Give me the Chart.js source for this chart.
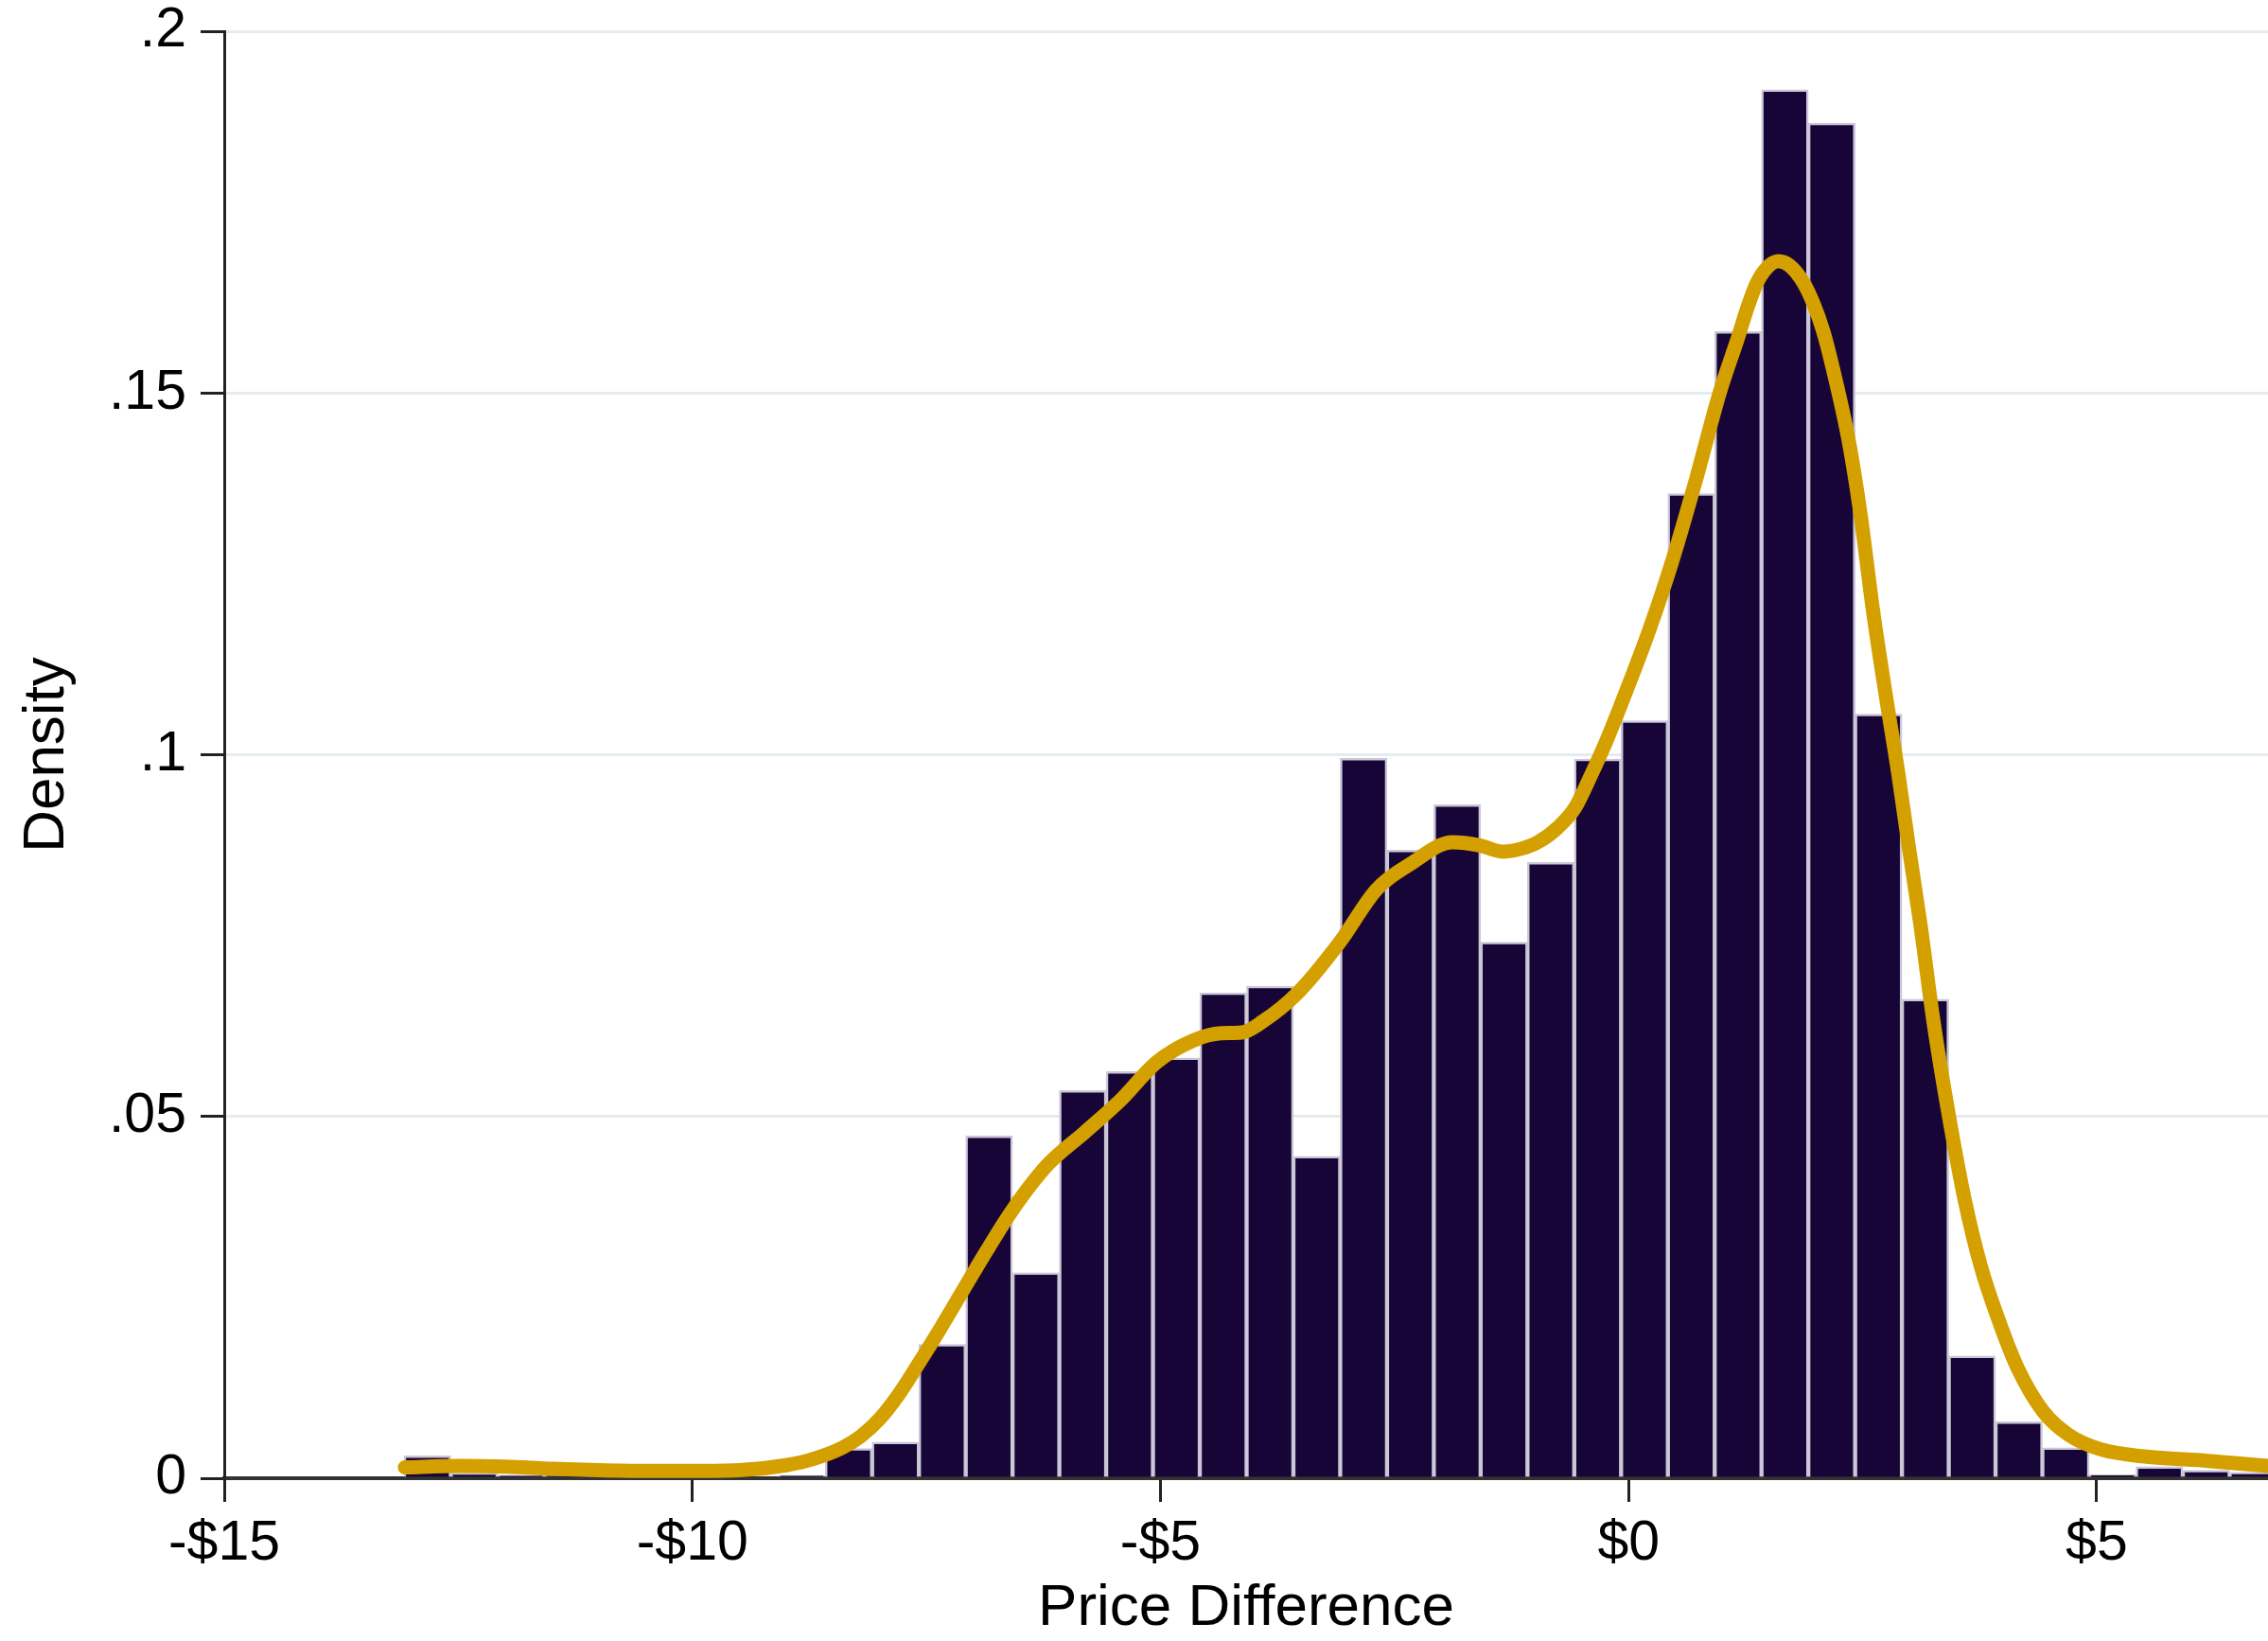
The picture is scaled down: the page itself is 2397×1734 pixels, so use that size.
<!DOCTYPE html>
<html>
<head>
<meta charset="utf-8">
<title>Price Difference</title>
<script src="https://cdn.jsdelivr.net/npm/chart.js@4.4.1/dist/chart.umd.min.js"></script>
<style>
  body { margin: 0; background: #fff; }
  #wrap { width: 2397px; height: 1734px; }
</style>
</head>
<body>
<div id="wrap"><canvas id="myChart" width="2397" height="1734"></canvas></div>
<script>
// histogram bins (bin width $0.50)
let binCenters = [-12.83, -12.33, -11.83, -11.33, -10.83, -10.33, -9.83, -9.33, -8.83, -8.33,
  -7.83, -7.33, -6.83, -6.33, -5.83, -5.33, -4.83, -4.33, -3.83, -3.33,
  -2.83, -2.33, -1.83, -1.33, -0.83, -0.33, 0.17, 0.67, 1.17, 1.67,
  2.17, 2.67, 3.17, 3.67, 4.17, 4.67, 5.17, 5.67, 6.17, 6.67]
let density = [0.0031, 0.0007, 0.0004, 0.0004, 0, 0, 0, 0, 0.0004, 0.0041,
  0.0050, 0.0185, 0.0473, 0.0284, 0.0536, 0.0562, 0.0581, 0.0671, 0.0680, 0.0445,
  0.0995, 0.0868, 0.0931, 0.0741, 0.0851, 0.0994, 0.1047, 0.1361, 0.1585, 0.1919,
  0.1873, 0.1056, 0.0662, 0.0169, 0.0078, 0.0042, 0.0005, 0.0016, 0.0011, 0.0008]

// kernel density curve
let kdeX = [-13.07, -12.5, -12.0, -11.5, -11.0, -10.5, -10.0, -9.5, -9.0, -8.7,
  -8.4, -8.2, -8.0, -7.8, -7.6, -7.36, -6.97, -6.59, -6.20, -5.81,
  -5.43, -5.04, -4.65, -4.35, -4.13, -3.91, -3.54, -3.09, -2.69, -2.33,
  -1.88, -1.6, -1.34, -1.15, -0.97, -0.75, -0.57, -0.40, -0.25, -0.10,
  0.05, 0.22, 0.46, 0.73, 0.97, 1.17, 1.27, 1.37, 1.47, 1.60,
  1.72, 1.87, 1.97, 2.08, 2.18, 2.35, 2.48, 2.61, 2.75, 2.88,
  2.985, 3.12, 3.255, 3.42, 3.59, 3.76, 3.96, 4.16, 4.43, 4.70,
  5.04, 5.51, 6.19, 6.83]
let kdeY = [0.0015, 0.0017, 0.0016, 0.0013, 0.0011, 0.0010, 0.0010, 0.0011, 0.0018, 0.0027,
  0.0042, 0.0058, 0.0082, 0.0115, 0.0155, 0.0205, 0.0290, 0.0369, 0.0434, 0.0478,
  0.0522, 0.0575, 0.0605, 0.0615, 0.0616, 0.0631, 0.0670, 0.0740, 0.0814, 0.0849,
  0.0879, 0.0875, 0.0866, 0.0870, 0.0879, 0.0900, 0.0927, 0.0972, 0.1015, 0.1063,
  0.1113, 0.1172, 0.1265, 0.1385, 0.1499, 0.1577, 0.1618, 0.1652, 0.1672, 0.1682,
  0.1676, 0.1652, 0.1625, 0.1585, 0.1535, 0.1435, 0.1330, 0.1200, 0.1080, 0.0975,
  0.0880, 0.0763, 0.0633, 0.0502, 0.0385, 0.0294, 0.0216, 0.0151, 0.0092, 0.0060,
  0.0040, 0.0030, 0.0024, 0.0017]

let xTicks = [-15, -10, -5, 0, 5]
let xTickLabels = ['-$15', '-$10', '-$5', '$0', '$5']
let yTicks = [0, 0.05, 0.1, 0.15, 0.2]
let yTickLabels = ['0', '.05', '.1', '.15', '.2']

let fontFamily = '"Liberation Sans", Arial, Helvetica, sans-serif'

function toPoints(xs, ys) {
    let pts = []
    for (let i = 0; i < xs.length; i++) {
        pts.push({x: xs[i], y: ys[i]})
    }
    return pts
}

var ctx = document.getElementById('myChart').getContext('2d');

var chart = new Chart(ctx, {
    type: 'bar',
    data: {
        datasets: [{
            type: 'line',
            label: 'Kernel density',
            data: toPoints(kdeX, kdeY),
            borderColor: '#d3a000',
            borderWidth: 15,
            pointRadius: 0,
            cubicInterpolationMode: 'monotone',
            borderCapStyle: 'round',
            borderJoinStyle: 'round',
            fill: false,
            order: 0
        }, {
            type: 'bar',
            label: 'Density',
            data: toPoints(binCenters, density),
            backgroundColor: '#170538',
            borderColor: '#cbc7d7',
            borderWidth: 2.5,
            borderSkipped: 'bottom',
            barPercentage: 1,
            categoryPercentage: 1,
            order: 1
        }]
    },
    options: {
        responsive: false,
        animation: false,
        devicePixelRatio: 1,
        layout: { padding: { top: 33, right: 0, left: 0, bottom: 0 } },
        plugins: {
            legend: { display: false },
            tooltip: { enabled: false }
        },
        scales: {
            x: {
                type: 'linear',
                min: -15,
                max: 6.83,
                offset: false,
                afterFit: function(scale) {
                    scale.height = 172
                    scale.paddingLeft = 0
                    scale.paddingRight = 0
                },
                afterBuildTicks: function(scale) {
                    scale.ticks = xTicks.map(function(v) { return {value: v} })
                },
                grid: {
                    offset: false,
                    drawOnChartArea: false,
                    drawTicks: true,
                    tickLength: 25,
                    tickColor: '#222',
                    tickWidth: 3
                },
                border: { display: true, color: '#333', width: 4 },
                ticks: {
                    padding: 15,
                    color: '#000',
                    maxRotation: 0,
                    font: { family: fontFamily, size: 59, lineHeight: 1 },
                    callback: function(value) {
                        let i = xTicks.indexOf(value)
                        return i >= 0 ? xTickLabels[i] : ''
                    }
                },
                title: {
                    display: true,
                    text: 'Price Difference',
                    color: '#000',
                    padding: { top: 0, bottom: 0 },
                    font: { family: fontFamily, size: 62, lineHeight: 1.1 }
                }
            },
            y: {
                type: 'linear',
                min: 0,
                max: 0.2,
                afterFit: function(scale) {
                    scale.width = 237
                    scale.paddingTop = 0
                    scale.paddingBottom = 0
                },
                afterBuildTicks: function(scale) {
                    scale.ticks = yTicks.map(function(v) { return {value: v} })
                },
                grid: {
                    color: function(c) {
                        return c.tick && c.tick.value === 0 ? 'rgba(0,0,0,0)' : '#e4ecef'
                    },
                    lineWidth: 3,
                    drawTicks: true,
                    tickLength: 25,
                    tickColor: '#222',
                    tickWidth: 3
                },
                border: { display: true, color: '#222', width: 3 },
                ticks: {
                    padding: 15,
                    color: '#000',
                    font: { family: fontFamily, size: 59, lineHeight: 1 },
                    callback: function(value) {
                        let i = yTicks.indexOf(value)
                        return i >= 0 ? yTickLabels[i] : ''
                    }
                },
                title: {
                    display: true,
                    text: 'Density',
                    color: '#000',
                    padding: { top: 13, bottom: 0 },
                    font: { family: fontFamily, size: 62, lineHeight: 1.2 }
                }
            }
        }
    }
});
</script>
</body>
</html>
